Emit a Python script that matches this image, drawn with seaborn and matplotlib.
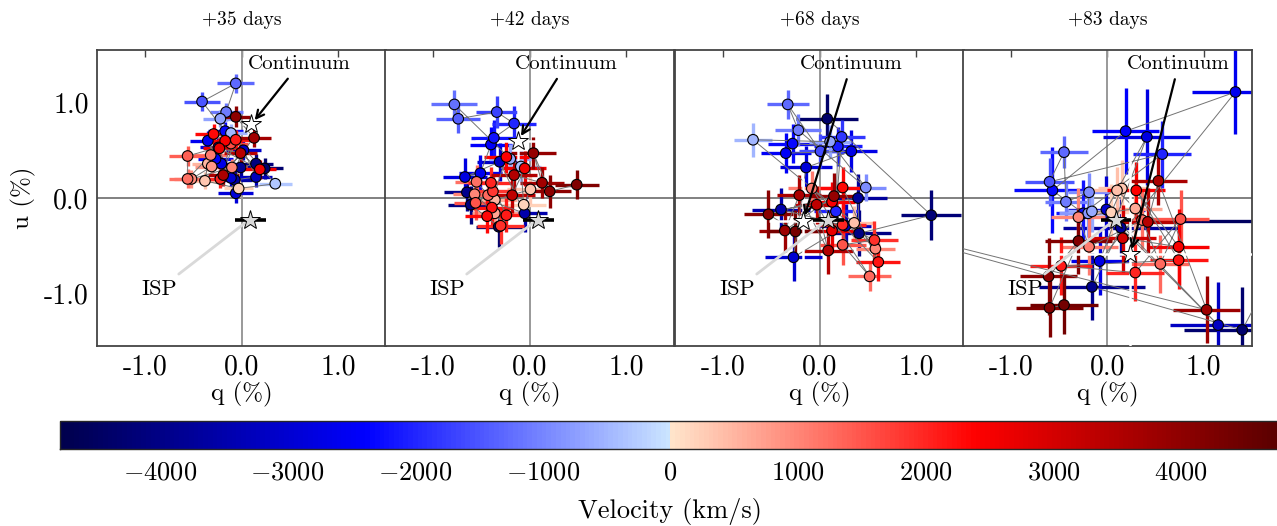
import numpy as np
import pandas as pd
import matplotlib
matplotlib.use("Agg")
import matplotlib.pyplot as plt
import seaborn as sns
from matplotlib.colors import LinearSegmentedColormap, Normalize
from matplotlib.cm import ScalarMappable

sns.set_style("white")
plt.rcParams["font.family"] = ["cmr10", "DejaVu Serif"]
plt.rcParams["mathtext.fontset"] = "cm"
plt.rcParams["axes.unicode_minus"] = False
plt.rcParams["axes.formatter.use_mathtext"] = True
plt.rcParams["text.color"] = "black"
plt.rcParams["axes.labelcolor"] = "black"
plt.rcParams["xtick.labelcolor"] = "black"
plt.rcParams["ytick.labelcolor"] = "black"

# ---------------- data ----------------
epochs = ["+35 days", "+42 days", "+68 days", "+83 days"]

q35 = [-0.06, -0.41, -0.16, -0.22, -0.06, 0.13, -0.11, -0.17, -0.29, -0.35, -0.17, -0.06, -0.11,
       -0.23, -0.24, 0.02, -0.01, -0.32, -0.56, -0.27, -0.35, -0.21, -0.31, -0.10, -0.01, 0.15,
       0.24, 0.19, 0.15, -0.19, -0.11, -0.07, -0.56, -0.52, -0.38, -0.22, 0.35, -0.03, -0.06]
u35 = [1.20, 1.01, 0.90, 0.83, 0.85, 0.63, 0.68, 0.70, 0.67, 0.60, 0.60, 0.61, 0.57,
       0.52, 0.53, 0.50, 0.47, 0.45, 0.44, 0.41, 0.36, 0.36, 0.33, 0.32, 0.32, 0.36,
       0.31, 0.30, 0.22, 0.24, 0.21, 0.19, 0.20, 0.20, 0.18, 0.20, 0.15, 0.10, 0.05]
v35 = [-1300, -1500, -1100, -700, 4000, 3700, -500, -2300, 2300, -2600, 2500, 2100, 1600,
       2700, -2800, -3100, 3400, 1100, 1400, -2500, 500, -2700, 800, 1000, -3800, -4100,
       -4300, 2600, -3300, 3600, -3000, -3600, 1200, 900, 300, 2000, -300, 200, -2900]
qe35 = [0.19, 0.19, 0.17, 0.18, 0.16, 0.18, 0.17, 0.18, 0.19, 0.18, 0.17, 0.16, 0.18,
        0.17, 0.19, 0.18, 0.17, 0.17, 0.19, 0.18, 0.16, 0.18, 0.17, 0.16, 0.19, 0.18,
        0.19, 0.17, 0.17, 0.16, 0.18, 0.18, 0.19, 0.18, 0.16, 0.17, 0.17, 0.15, 0.18]
ue35 = [0.10, 0.10, 0.09, 0.09, 0.11, 0.10, 0.09, 0.10, 0.11, 0.10, 0.09, 0.10, 0.10,
        0.11, 0.10, 0.10, 0.10, 0.09, 0.10, 0.10, 0.08, 0.10, 0.09, 0.09, 0.10, 0.10,
        0.11, 0.10, 0.10, 0.11, 0.10, 0.10, 0.10, 0.09, 0.09, 0.10, 0.05, 0.09, 0.10]

q42 = [-0.78, -0.74, -0.34, -0.16, -0.37, -0.40, -0.24, -0.31, -0.20, -0.09, 0.04, -0.05, -0.16,
       -0.51, -0.67, -0.55, -0.40, 0.13, 0.49, 0.21, 0.01, -0.65, -0.57, -0.38, -0.43, -0.18,
       -0.36, -0.56, -0.61, -0.06, -0.39, -0.05, -0.36, -0.24, -0.44, -0.30, -0.32]
u42 = [0.98, 0.83, 0.90, 0.78, 0.63, 0.56, 0.43, 0.38, 0.41, 0.33, 0.47, 0.31, 0.24,
       0.26, 0.22, 0.17, 0.16, 0.16, 0.14, 0.07, 0.09, 0.06, 0.04, 0.07, 0.03, 0.03,
       -0.02, -0.05, -0.07, -0.07, -0.10, -0.16, -0.16, -0.18, -0.19, -0.29, -0.30]
v42 = [-1200, -1400, -1700, -2000, -2200, -2400, 2400, -3200, -600, -400, 3900, 2600, 3500,
       -2600, -2800, 1200, 2000, 3700, 4200, 4000, 300, -3900, 1000, 1800, 1300, 3300,
       500, 1500, -4100, 200, 2200, -3500, 700, 2100, 2300, 1900, -4300]
qe42 = [0.24, 0.23, 0.22, 0.23, 0.24, 0.22, 0.23, 0.24, 0.22, 0.21, 0.23, 0.22, 0.24,
        0.22, 0.23, 0.22, 0.24, 0.23, 0.23, 0.22, 0.24, 0.24, 0.22, 0.23, 0.22, 0.24,
        0.23, 0.22, 0.24, 0.23, 0.22, 0.23, 0.24, 0.22, 0.23, 0.24, 0.24]
ue42 = [0.15, 0.15, 0.17, 0.18, 0.19, 0.18, 0.17, 0.20, 0.16, 0.16, 0.17, 0.18, 0.19,
        0.19, 0.20, 0.18, 0.17, 0.16, 0.15, 0.17, 0.15, 0.20, 0.18, 0.17, 0.18, 0.19,
        0.16, 0.18, 0.20, 0.15, 0.18, 0.20, 0.16, 0.18, 0.18, 0.19, 0.21]

q68 = [-0.33, 0.08, -0.22, -0.69, -0.28, 0.11, 0.23, 0.19, -0.35, 0.01, 0.33, -0.14, 0.48,
       -0.08, 0.24, -0.21, 0.15, 0.40, 0.13, -0.03, -0.40, -0.53, 0.17, 1.16, 0.36, 0.24,
       0.27, 0.13, -0.36, -0.25, 0.41, 0.57, 0.58, 0.24, 0.09, 0.61, -0.27, 0.52]
u68 = [0.98, 0.83, 0.71, 0.61, 0.57, 0.59, 0.64, 0.54, 0.47, 0.49, 0.49, 0.32, 0.11,
       0.10, 0.11, 0.03, 0.02, 0.00, -0.04, -0.07, -0.12, -0.17, -0.14, -0.18, -0.26, -0.28,
       -0.29, -0.34, -0.34, -0.35, -0.37, -0.44, -0.53, -0.49, -0.55, -0.67, -0.62, -0.82]
v68 = [-1300, -4400, -1100, -500, -2300, -700, -1800, -2100, -2500, -1600, -2700, -2900, -900,
       1100, 2300, 3600, 3900, -3700, 2500, 3300, -3500, 4100, -2000, -4200, 400, 2000,
       -3300, 2700, 3800, 4300, -4000, 1900, 1000, 1500, 3500, 2200, -3000, 1300]
qe68 = [0.22, 0.32, 0.24, 0.20, 0.25, 0.22, 0.24, 0.25, 0.26, 0.22, 0.27, 0.27, 0.21,
        0.25, 0.24, 0.23, 0.26, 0.30, 0.24, 0.22, 0.30, 0.25, 0.23, 0.31, 0.22, 0.24,
        0.26, 0.24, 0.27, 0.28, 0.33, 0.24, 0.20, 0.24, 0.26, 0.23, 0.30, 0.22]
ue68 = [0.15, 0.26, 0.17, 0.18, 0.20, 0.17, 0.18, 0.20, 0.21, 0.18, 0.22, 0.22, 0.14,
        0.18, 0.22, 0.21, 0.24, 0.25, 0.21, 0.20, 0.22, 0.25, 0.22, 0.26, 0.18, 0.22,
        0.23, 0.24, 0.22, 0.23, 0.24, 0.20, 0.16, 0.21, 0.24, 0.20, 0.25, 0.15]

q83 = [1.33, 0.19, 0.41, -0.45, 0.57, 0.53, -0.60, -0.57, -0.19, 0.10, 0.15, 0.30, -0.43,
       0.29, -0.01, 0.04, -0.16, -0.20, -0.25, -0.30, 0.36, 0.42, 0.76, 0.14, 0.16, -0.30,
       -0.19, 0.74, 0.55, 0.74, -0.08, -0.48, 0.29, -0.61, -0.16, -0.60, -0.45, 1.03, 1.15,
       1.40, -3.00, 2.00]
u83 = [1.11, 0.70, 0.64, 0.48, 0.46, 0.18, 0.17, 0.08, 0.06, 0.08, 0.10, 0.08, -0.04,
       -0.11, -0.12, -0.15, -0.14, -0.16, -0.16, -0.20, -0.23, -0.25, -0.22, -0.31, -0.42, -0.45,
       -0.51, -0.51, -0.69, -0.65, -0.66, -0.71, -0.78, -0.82, -0.93, -1.15, -1.12, -1.17, -1.33,
       -1.38, -0.15, -0.24]
v83 = [-2600, -2400, -2800, -1300, -2000, 3600, -1500, -2300, -900, 400, 300, 2400, -1100,
       600, -3000, 200, -600, -800, -2200, 1000, 1200, 3400, 1500, -3700, 3000, 4150,
       1100, 2500, 1300, 2200, -2700, 2100, 2000, 4000, -3900, 4200, 4400, 3800, -3200,
       -4300, 3900, -4500]
qe83 = [0.45, 0.35, 0.45, 0.25, 0.30, 0.30, 0.25, 0.40, 0.22, 0.30, 0.25, 0.30, 0.22,
        0.28, 0.40, 0.30, 0.25, 0.30, 0.28, 0.28, 0.30, 0.35, 0.30, 0.60, 0.35, 0.35,
        0.30, 0.32, 0.30, 0.30, 0.30, 0.32, 0.30, 0.30, 0.55, 0.35, 0.35, 0.35, 0.50,
        0.60, 0.40, 1.30]
ue83 = [0.44, 0.45, 0.50, 0.17, 0.35, 0.25, 0.25, 0.45, 0.20, 0.25, 0.30, 0.30, 0.20,
        0.30, 0.35, 0.30, 0.22, 0.25, 0.35, 0.30, 0.30, 0.35, 0.30, 0.30, 0.35, 0.35,
        0.30, 0.40, 0.30, 0.30, 0.35, 0.30, 0.30, 0.40, 0.35, 0.30, 0.30, 0.35, 0.45,
        0.45, 0.30, 0.30]

cont_q = [0.10, -0.12, -0.17, 0.24]
cont_u = [0.77, 0.60, -0.24, -0.59]
cont_qe = [0.10, 0.45, 0.35, 1.40]
cont_ue = [0.20, 0.40, 0.45, 1.10]

isp_q, isp_u = 0.09, -0.23
isp_qe, isp_ue = 0.16, 0.02

cbar_ticks = [-4000, -3000, -2000, -1000, 0, 1000, 2000, 3000, 4000]
vmin, vmax = -4780, 4780

panels = [(q35, u35, v35, qe35, ue35), (q42, u42, v42, qe42, ue42),
          (q68, u68, v68, qe68, ue68), (q83, u83, v83, qe83, ue83)]

# ---------------- colormap ----------------
cmap = LinearSegmentedColormap.from_list("vel", [
    (0.0, (0.0, 0.0, 0.30)),
    (0.25, (0.0, 0.0, 1.0)),
    (0.4999, (0.80, 0.90, 1.0)),
    (0.5001, (1.0, 0.90, 0.80)),
    (0.75, (1.0, 0.0, 0.0)),
    (1.0, (0.35, 0.0, 0.0)),
])
norm = Normalize(vmin=vmin, vmax=vmax)

# ---------------- figure ----------------
fig = plt.figure(figsize=(12.77, 5.26), dpi=100)
lefts = [0.076, 0.3015, 0.5286, 0.754]
w, b, h = 0.2263, 0.342, 0.563
spine_c = "#444444"

for i, (q, u, v, qe, ue) in enumerate(panels):
    ax = fig.add_axes([lefts[i], b, w, h])
    ax.set_xlim(-1.5, 1.5)
    ax.set_ylim(-1.55, 1.55)
    ax.axhline(0, color="0.5", lw=1.4, zorder=1)
    ax.axvline(0, color="0.6", lw=1.4, zorder=1)

    df = pd.DataFrame({"q": q, "u": u, "v": v, "qe": qe, "ue": ue})
    df = df.sort_values("v").reset_index(drop=True)
    for _, r in df.iterrows():
        ax.errorbar(r.q, r.u, xerr=r.qe, yerr=r.ue, fmt="none",
                    ecolor=cmap(norm(r.v)), elinewidth=2.4, capsize=0, zorder=2)
    ax.plot(df.q, df.u, color="0.45", lw=0.7, zorder=3)

    # continuum
    ax.errorbar(cont_q[i], cont_u[i], xerr=cont_qe[i], yerr=cont_ue[i], fmt="none",
                ecolor="white", elinewidth=1.8, capsize=0, zorder=3.5)

    sns.scatterplot(data=df, x="q", y="u", hue="v", palette=cmap, hue_norm=norm,
                    s=58, edgecolor="black", linewidth=0.8, legend=False, ax=ax, zorder=4)

    # ISP
    ax.errorbar(isp_q, isp_u, xerr=isp_qe, yerr=isp_ue, fmt="none", ecolor="black",
                elinewidth=2.6, capsize=0, zorder=5)
    ax.plot(isp_q, isp_u, marker="*", ms=15, mfc="0.85", mec="black", mew=0.7,
            ls="none", zorder=6)
    ax.plot(cont_q[i], cont_u[i], marker="*", ms=15, mfc="white", mec="black", mew=0.7,
            ls="none", zorder=6)

    ax.annotate("Continuum", xy=(cont_q[i], cont_u[i]), xytext=(cont_q[i] + 0.5, 1.40),
                ha="center", va="center", fontsize=15, zorder=7,
                arrowprops=dict(arrowstyle="->", color="black", lw=1.6,
                                shrinkA=2, shrinkB=4, mutation_scale=14))
    ax.annotate("ISP", xy=(isp_q - 0.04, isp_u - 0.02), xytext=(-0.85, -0.95),
                ha="center", va="center", fontsize=16, zorder=7,
                arrowprops=dict(arrowstyle="-", color="0.85", lw=2.0,
                                shrinkA=2, shrinkB=2))

    ax.set_title(epochs[i], fontsize=14, pad=18)
    ax.set_xticks([-1, 0, 1])
    ax.set_xticklabels(["-1.0", "0.0", "1.0"])
    if i == 0:
        ax.set_yticks([-1, 0, 1])
        ax.set_yticklabels(["-1.0", "0.0", "1.0"])
        ax.set_ylabel("u (%)", fontsize=18, labelpad=6)
    else:
        ax.set_yticks(np.arange(-1.5, 1.51, 0.5))
        ax.set_yticklabels([])
        ax.set_ylabel("")
    ax.set_xlabel("q (%)", fontsize=18, labelpad=1)
    ax.tick_params(direction="in", top=True, right=False, length=5, width=1.0,
                   color=spine_c, labelsize=20, pad=6)
    for s in ax.spines.values():
        s.set_color(spine_c)
        s.set_linewidth(1.3)

# ---------------- colorbar ----------------
cax = fig.add_axes([0.047, 0.146, 0.956, 0.053])
sm = ScalarMappable(norm=norm, cmap=cmap)
cb = fig.colorbar(sm, cax=cax, orientation="horizontal")
cb.set_ticks(cbar_ticks)
cb.set_ticklabels([f"${t}$" if t >= 0 else f"$-{abs(t)}$" for t in cbar_ticks])
cax.tick_params(axis="x", direction="in", top=True, bottom=True, length=5, width=1,
                labelsize=19, pad=8, labelcolor="black")
cb.outline.set_linewidth(1.0)
cb.set_label("Velocity (km/s)", fontsize=19, labelpad=10)

fig.savefig("out.png", dpi=100)
